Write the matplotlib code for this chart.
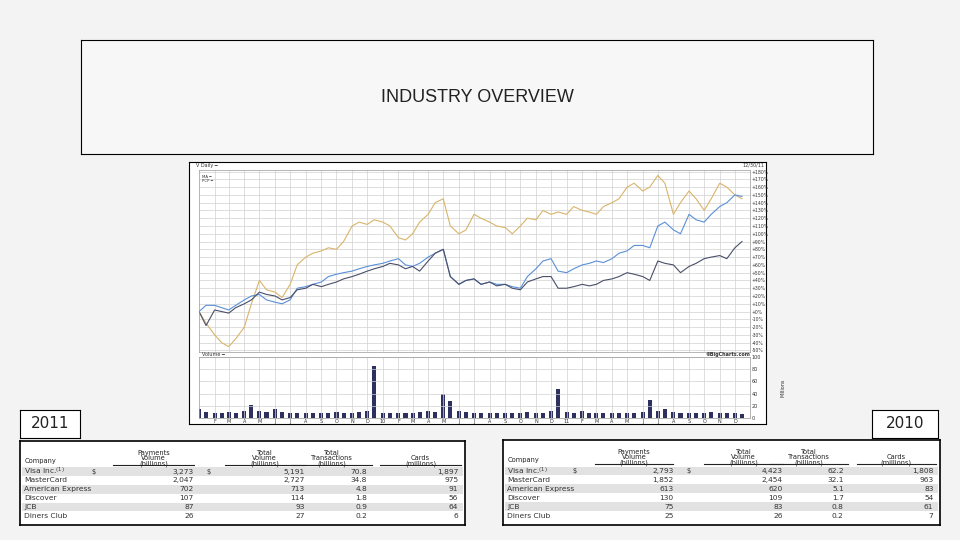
import matplotlib
matplotlib.use("Agg")
import matplotlib.pyplot as plt
import pandas as pd
from matplotlib.patches import Rectangle

# semi-monthly readings, % change since Jan 2009
visa = [0, -18, 2, 0, -2, 5, 10, 15, 25, 22, 20, 15, 18, 28, 30, 35, 32, 35, 38, 42, 45, 48, 52, 55,
        58, 62, 60, 55, 58, 52, 65, 75, 80, 45, 35, 40, 42, 35, 38, 33, 35, 30, 28, 38, 42, 45, 45, 30,
        30, 32, 35, 33, 35, 40, 42, 45, 50, 48, 45, 40, 65, 62, 60, 50, 58, 62, 68, 70, 72, 68, 82, 90]
ma = [0, 8, 8, 5, 2, 8, 15, 20, 22, 15, 12, 10, 15, 30, 32, 35, 38, 45, 48, 50, 52, 55, 58, 60,
      62, 65, 68, 60, 58, 62, 70, 75, 80, 45, 35, 40, 42, 35, 38, 35, 35, 32, 30, 45, 55, 65, 68, 52,
      50, 55, 60, 62, 65, 63, 68, 75, 78, 85, 85, 82, 110, 115, 105, 100, 125, 118, 115, 125, 135, 140, 150, 148]
pcp = [0, -15, -30, -40, -45, -35, -20, 10, 40, 28, 25, 18, 35, 60, 70, 75, 78, 82, 80, 90, 110, 115, 112, 118,
       115, 110, 95, 92, 100, 115, 125, 140, 145, 110, 100, 105, 125, 120, 115, 110, 108, 100, 110, 120, 118, 130, 125, 128,
       125, 135, 130, 128, 125, 135, 140, 145, 160, 165, 155, 160, 175, 165, 125, 140, 155, 145, 130, 145, 165, 160, 150, 145]
volume = [15, 10, 9, 8, 10, 8, 12, 22, 12, 10, 14, 10, 9, 8, 8, 8, 9, 8, 10, 9, 8, 10, 11, 85,
          9, 8, 8, 9, 8, 10, 12, 10, 40, 28, 12, 10, 9, 8, 8, 8, 9, 8, 9, 10, 8, 9, 12, 48,
          10, 9, 12, 9, 8, 9, 8, 8, 8, 9, 10, 30, 12, 14, 10, 9, 8, 9, 8, 10, 8, 9, 8, 7]
month_labels = ["F", "M", "A", "M", "J", "J", "A", "S", "O", "N", "D", "10",
                "F", "M", "A", "M", "J", "J", "A", "S", "O", "N", "D", "11",
                "F", "M", "A", "M", "J", "J", "A", "S", "O", "N", "D"]

columns = ["Company", "Payments\nVolume\n(billions)", "Total\nVolume\n(billions)",
           "Total\nTransactions\n(billions)", "Cards\n(millions)"]
companies = ["Visa Inc.", "MasterCard", "American Express", "Discover", "JCB", "Diners Club"]
payments_2011 = ["3,273", "2,047", "702", "107", "87", "26"]
total_2011 = ["5,191", "2,727", "713", "114", "93", "27"]
trans_2011 = ["70.8", "34.8", "4.8", "1.8", "0.9", "0.2"]
cards_2011 = ["1,897", "975", "91", "56", "64", "6"]
payments_2010 = ["2,793", "1,852", "613", "130", "75", "25"]
total_2010 = ["4,423", "2,454", "620", "109", "83", "26"]
trans_2010 = ["62.2", "32.1", "5.1", "1.7", "0.8", "0.2"]
cards_2010 = ["1,808", "963", "83", "54", "61", "7"]

W, H = 960, 540


def box(l, t, r, b):
    return [l / W, 1 - b / H, (r - l) / W, (b - t) / H]


def draw_table(fig, rect, cols):
    ax = fig.add_axes(box(*rect))
    ax.set_xlim(0, 1)
    ax.set_ylim(0, 1)
    ax.set_xticks([])
    ax.set_yticks([])
    ax.set_facecolor("white")
    for s in ax.spines.values():
        s.set_linewidth(1.2)
    rights = [None, 0.39, 0.64, 0.78, 0.985]
    centers = [0.01, 0.30, 0.55, 0.70, 0.90]
    halfw = [0, 0.09, 0.09, 0.09, 0.09]
    fs = 4.8
    ax.text(0.01, 0.76, columns[0], fontsize=fs, va="center", color="#222")
    for j in range(1, 5):
        ax.text(centers[j], 0.695, columns[j], fontsize=fs, ha="center", va="bottom",
                color="#222", linespacing=0.8)
        ax.plot([centers[j] - halfw[j], centers[j] + halfw[j]], [0.72, 0.72],
                color="#222", lw=0.8)
    row_h = 0.105
    for i, name in enumerate(companies):
        y = 0.635 - i * row_h
        if i % 2 == 0:
            ax.add_patch(Rectangle((0.005, y - row_h / 2), 0.99, row_h,
                                   color="#e2e2e2", lw=0))
        label = name + ("$^{(1)}$" if i == 0 else "")
        ax.text(0.01, y, label, fontsize=fs + 0.6, va="center", color="#333")
        if i == 0:
            ax.text(0.16, y, "$", fontsize=fs, va="center", color="#333")
            ax.text(0.42, y, "$", fontsize=fs, va="center", color="#333")
        for j, vals in enumerate(cols, start=1):
            ax.text(rights[j], y, vals[i], fontsize=fs + 0.6, ha="right",
                    va="center", color="#333")


fig = plt.figure(figsize=(9.6, 5.4), dpi=100)
fig.patch.set_facecolor("#f3f3f3")

# title box
tax = fig.add_axes(box(81, 40, 873, 154))
tax.set_xticks([])
tax.set_yticks([])
tax.set_facecolor("#f7f7f7")
tax.text(0.5, 0.5, "INDUSTRY OVERVIEW", fontsize=13, ha="center", va="center",
         family="Liberation Sans", color="#222")

# chart image frame
frame = fig.add_axes(box(189, 162, 766, 424))
frame.set_xticks([])
frame.set_yticks([])
frame.set_facecolor("white")
frame.text(0.012, 0.995, "V Daily ━", fontsize=3.5, va="top", color="#333")
frame.text(0.998, 0.997, "12/30/11", fontsize=3.5, va="top", ha="right", color="#333")

dates = pd.date_range("2009-01-01", "2011-12-31", freq="SMS")
ticks = pd.date_range("2009-02-01", "2011-12-01", freq="MS")
grid_c = "#d0d0d0"

ax = fig.add_axes(box(199, 170, 750, 352))
ax.plot(dates, pcp, color="#d9b46a", lw=0.8)
ax.plot(dates, ma, color="#5a8fd8", lw=0.8)
ax.plot(dates, visa, color="#4a4f6a", lw=0.8)
ax.set_ylim(-52, 182)
ax.set_xlim(dates[0], pd.Timestamp("2011-12-31"))
ax.set_yticks(range(-50, 181, 10))
ax.set_yticklabels([f"{v:+d}%" if v else "+0%" for v in range(-50, 181, 10)])
ax.yaxis.tick_right()
ax.set_xticks(ticks)
ax.set_xticklabels([])
ax.tick_params(labelsize=3.3, length=0, pad=1, colors="#333")
ax.grid(True, color=grid_c, lw=0.5)
for s in ax.spines.values():
    s.set_color("#999")
    s.set_linewidth(0.5)
ax.text(0.005, 0.975, "MA ━\nPCP ━", transform=ax.transAxes, fontsize=2.8,
        va="top", color="#333")

vax = fig.add_axes(box(199, 357, 750, 418))
vax.bar(dates, volume, width=8, color="#2e3160")
vax.set_ylim(0, 100)
vax.set_xlim(dates[0], pd.Timestamp("2011-12-31"))
vax.set_yticks(range(0, 101, 20))
vax.yaxis.tick_right()
vax.set_xticks(ticks)
vax.set_xticklabels(month_labels)
vax.tick_params(labelsize=3.5, length=0, pad=1, colors="#333")
vax.grid(True, color=grid_c, lw=0.5)
for s in vax.spines.values():
    s.set_color("#999")
    s.set_linewidth(0.5)
vax.text(0.005, 1.02, "Volume ━", transform=vax.transAxes, fontsize=3.5, color="#333")
vax.text(1.0, 1.02, "©BigCharts.com", transform=vax.transAxes, fontsize=3.5,
         ha="right", color="#333", weight="bold")
vax.text(1.055, 0.5, "Millions", transform=vax.transAxes, fontsize=3.5,
         rotation=90, va="center", color="#333")

# year labels
for rect, txt in [((20, 410, 80, 438), "2011"), ((872, 410, 938, 438), "2010")]:
    lax = fig.add_axes(box(*rect))
    lax.set_xticks([])
    lax.set_yticks([])
    lax.set_facecolor("white")
    lax.text(0.5, 0.5, txt, fontsize=11, ha="center", va="center", color="#222")

draw_table(fig, (20, 441, 465, 525), [payments_2011, total_2011, trans_2011, cards_2011])
draw_table(fig, (503, 440, 940, 525), [payments_2010, total_2010, trans_2010, cards_2010])

fig.savefig("out.png", dpi=100, facecolor=fig.get_facecolor())
